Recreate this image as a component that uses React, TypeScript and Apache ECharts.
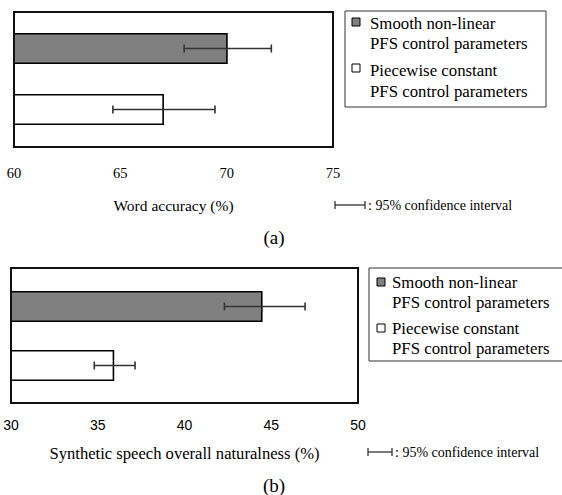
import React, { useEffect, useRef } from 'react';
import * as echarts from 'echarts';

const categories = [
  'Smooth non-linear PFS control parameters',
  'Piecewise constant PFS control parameters',
];
const seriesNames = categories;

// (a) Word accuracy (%)
const wordAccuracy = [70.05, 67.05];
const wordAccuracyLow = [68.0, 64.65];
const wordAccuracyHigh = [72.1, 69.45];
const axisA = { min: 60, max: 75, interval: 5 };

// (b) Synthetic speech overall naturalness (%)
const naturalness = [44.5, 35.95];
const naturalnessLow = [42.3, 34.8];
const naturalnessHigh = [46.95, 37.15];
const axisB = { min: 30, max: 50, interval: 5 };

const barColors = ['#808080', '#ffffff'];
const SERIF = "'Liberation Serif', 'Times New Roman', serif";
const SANS = "'Liberation Sans', Arial, sans-serif";

const errRender = (params: any, api: any) => {
  const cat = api.value(2);
  const lo = api.coord([api.value(0), cat]);
  const hi = api.coord([api.value(1), cat]);
  const h = 4;
  const style = { stroke: '#333', lineWidth: 1.6 };
  return {
    type: 'group',
    children: [
      { type: 'line', shape: { x1: lo[0], y1: lo[1], x2: hi[0], y2: hi[1] }, style },
      { type: 'line', shape: { x1: lo[0], y1: lo[1] - h, x2: lo[0], y2: lo[1] + h }, style },
      { type: 'line', shape: { x1: hi[0], y1: hi[1] - h, x2: hi[0], y2: hi[1] + h }, style },
    ],
  };
};

function legendGroup(x: number, y: number, w: number, h: number, sq: number[], tx: number, lines: number[]) {
  const children: any[] = [
    { type: 'rect', shape: { x, y, width: w, height: h }, style: { fill: '#fff', stroke: '#333', lineWidth: 1 } },
  ];
  const texts = [
    'Smooth non-linear',
    'PFS control parameters',
    'Piecewise constant',
    'PFS control parameters',
  ];
  [0, 1].forEach((i) => {
    children.push({
      type: 'rect',
      shape: { x: sq[0], y: sq[1 + i] - 4, width: 8, height: 8 },
      style: { fill: barColors[i], stroke: '#000', lineWidth: 1 },
    });
  });
  texts.forEach((t, i) => {
    children.push({
      type: 'text',
      style: { text: t, x: tx, y: lines[i], fontFamily: SERIF, fontSize: 16.8, fill: '#000', verticalAlign: 'middle' },
    });
  });
  return children;
}

function ciLegend(x1: number, x2: number, y: number, tx: number) {
  const style = { stroke: '#333', lineWidth: 1.3 };
  return [
    { type: 'line', shape: { x1, y1: y, x2, y2: y }, style },
    { type: 'line', shape: { x1, y1: y - 4, x2: x1, y2: y + 4 }, style },
    { type: 'line', shape: { x1: x2, y1: y - 4, x2, y2: y + 4 }, style },
    {
      type: 'text',
      style: { text: ': 95% confidence interval', x: tx, y, fontFamily: SERIF, fontSize: 14, fill: '#000', verticalAlign: 'middle' },
    },
  ];
}

export default function App() {
  const ref = useRef<HTMLDivElement>(null);
  useEffect(() => {
    document.body.style.margin = '0';
    const chart = echarts.init(ref.current!, null, { renderer: 'svg' });

    const barItem = (i: number) => ({ color: barColors[i], borderColor: '#000', borderWidth: 1.6 });

    const option: any = {
      animation: false,
      backgroundColor: '#fff',
      grid: [
        { left: 14, top: 18, width: 319, height: 122 },
        { left: 11, top: 277, width: 347, height: 118 },
      ],
      xAxis: [
        {
          gridIndex: 0, type: 'value', ...axisA,
          axisLine: { show: false }, axisTick: { show: false }, splitLine: { show: false },
          axisLabel: { margin: 25, fontFamily: SERIF, fontSize: 14.5, color: '#000' },
          name: 'Word accuracy (%)', nameLocation: 'middle', nameGap: 57,
          nameTextStyle: { fontFamily: SERIF, fontSize: 15.5, color: '#000' },
        },
        {
          gridIndex: 1, type: 'value', ...axisB,
          axisLine: { show: false }, axisTick: { show: false }, splitLine: { show: false },
          axisLabel: { margin: 23, fontFamily: SANS, fontSize: 14, color: '#000' },
          name: 'Synthetic speech overall naturalness (%)', nameLocation: 'middle', nameGap: 50,
          nameTextStyle: { fontFamily: SERIF, fontSize: 16.6, color: '#000' },
        },
      ],
      yAxis: [
        { gridIndex: 0, type: 'category', data: categories, inverse: true, show: false },
        { gridIndex: 1, type: 'category', data: categories, inverse: true, show: false },
      ],
      series: [
        {
          type: 'bar', name: seriesNames[0], xAxisIndex: 0, yAxisIndex: 0, barWidth: 31, barGap: '-100%', clip: true,
          data: [wordAccuracy[0], '-'], itemStyle: barItem(0),
        },
        {
          type: 'bar', name: seriesNames[1], xAxisIndex: 0, yAxisIndex: 0, barWidth: 31, barGap: '-100%', clip: true,
          data: ['-', wordAccuracy[1]], itemStyle: barItem(1),
        },
        {
          type: 'custom', name: 'CI a', xAxisIndex: 0, yAxisIndex: 0, renderItem: errRender,
          encode: { x: [0, 1], y: 2 }, z: 10,
          data: wordAccuracy.map((_, i) => [wordAccuracyLow[i], wordAccuracyHigh[i], i]),
        },
        {
          type: 'bar', name: seriesNames[0], xAxisIndex: 1, yAxisIndex: 1, barWidth: 31, barGap: '-100%', clip: true,
          data: [naturalness[0], '-'], itemStyle: barItem(0),
        },
        {
          type: 'bar', name: seriesNames[1], xAxisIndex: 1, yAxisIndex: 1, barWidth: 31, barGap: '-100%', clip: true,
          data: ['-', naturalness[1]], itemStyle: barItem(1),
        },
        {
          type: 'custom', name: 'CI b', xAxisIndex: 1, yAxisIndex: 1, renderItem: errRender,
          encode: { x: [0, 1], y: 2 }, z: 10,
          data: naturalness.map((_, i) => [naturalnessLow[i], naturalnessHigh[i], i]),
        },
      ],
      graphic: [
        { type: 'rect', z: 100, shape: { x: 14, y: 12, width: 319, height: 135 }, style: { fill: 'none', stroke: '#111', lineWidth: 2 } },
        { type: 'rect', z: 100, shape: { x: 11, y: 268, width: 347, height: 135 }, style: { fill: 'none', stroke: '#111', lineWidth: 2 } },
        ...legendGroup(345, 11, 201, 96, [352, 22, 68], 370, [23, 43, 70, 91]),
        ...legendGroup(369, 268, 200, 93, [377, 282, 328], 392, [282, 302, 328, 348]),
        ...ciLegend(335, 365, 205, 368),
        ...ciLegend(368, 392, 452, 395),
        { type: 'text', style: { text: '(a)', x: 274, y: 237, fontFamily: SERIF, fontSize: 19, fill: '#000', align: 'center', verticalAlign: 'middle' } },
        { type: 'text', style: { text: '(b)', x: 274, y: 485, fontFamily: SERIF, fontSize: 19, fill: '#000', align: 'center', verticalAlign: 'middle' } },
      ],
    };
    chart.setOption(option);
    return () => chart.dispose();
  }, []);
  return <div ref={ref} style={{ width: 562, height: 495 }} />;
}
